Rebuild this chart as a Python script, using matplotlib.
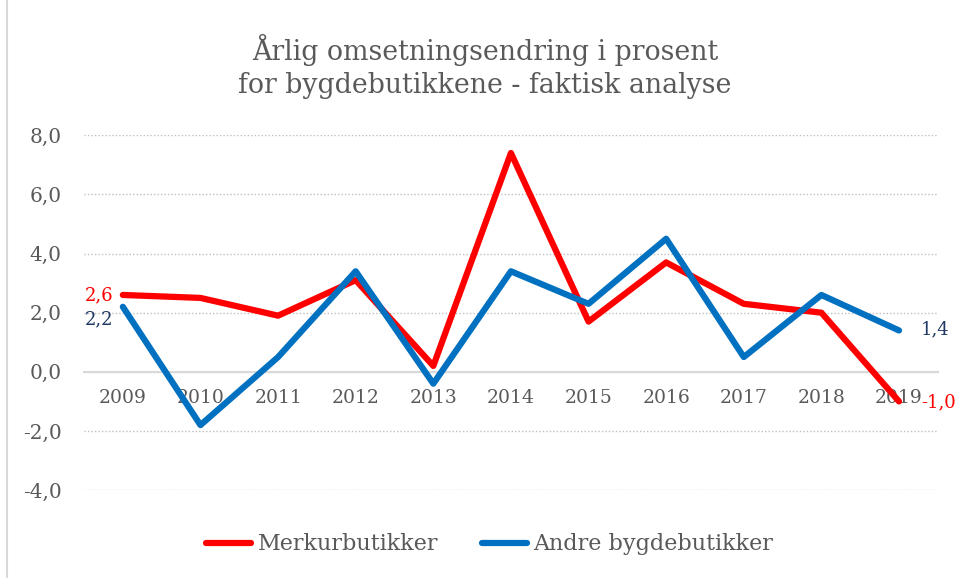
import matplotlib
matplotlib.use("Agg")
import matplotlib.pyplot as plt
from matplotlib.patches import Rectangle

years = ["2009", "2010", "2011", "2012", "2013", "2014",
         "2015", "2016", "2017", "2018", "2019"]
merkur = [2.6, 2.5, 1.9, 3.1, 0.2, 7.4, 1.7, 3.7, 2.3, 2.0, -1.0]
andre = [2.2, -1.8, 0.5, 3.4, -0.4, 3.4, 2.3, 4.5, 0.5, 2.6, 1.4]
yticks = [-4, -2, 0, 2, 4, 6, 8]

RED = "#FF0000"
BLUE = "#0070C0"
NAVY = "#1F3864"
GREY = "#595959"

plt.rcParams["font.family"] = ["DejaVu Serif"]

fig = plt.figure(figsize=(9.55, 5.78), dpi=100)
ax = fig.add_axes([0.088, 0.152, 0.894, 0.614])

x = list(range(len(years)))
ax.plot(x, merkur, color=RED, lw=4.5, solid_capstyle="round",
        solid_joinstyle="round", label="Merkurbutikker", zorder=3)
ax.plot(x, andre, color=BLUE, lw=4.5, solid_capstyle="round",
        solid_joinstyle="round", label="Andre bygdebutikker", zorder=3)

ax.set_xlim(-0.5, len(years) - 0.5)
ax.set_ylim(-4, 8)
ax.set_yticks(yticks)
ax.set_yticklabels([f"{v:.1f}".replace(".", ",") for v in yticks])
ax.yaxis.grid(True, color="#BFBFBF", linestyle=(0, (1, 1.5)), lw=1)
ax.set_axisbelow(True)

# category axis crosses at zero
for s in ["top", "right", "left"]:
    ax.spines[s].set_visible(False)
ax.spines["bottom"].set_position(("data", 0))
ax.spines["bottom"].set_color("#D9D9D9")
ax.spines["bottom"].set_linewidth(1.5)
ax.set_xticks(x)
ax.set_xticklabels(years)
ax.tick_params(axis="x", length=0, pad=12, labelsize=13.5, labelcolor=GREY)
ax.tick_params(axis="y", length=0, pad=16, labelsize=14.5, labelcolor=GREY)
for lbl in ax.get_xticklabels():
    lbl.set_zorder(2)

# data labels at both ends
def fmt(v):
    return f"{v:.1f}".replace(".", ",")

ax.annotate(fmt(merkur[0]), (0, merkur[0]), xytext=(-7, 0),
            textcoords="offset points", ha="right", va="center",
            color=RED, fontsize=13)
ax.annotate(fmt(andre[0]), (0, andre[0]), xytext=(-7, -9),
            textcoords="offset points", ha="right", va="center",
            color=NAVY, fontsize=13)
ax.annotate(fmt(andre[-1]), (10, andre[-1]), xytext=(16, 1),
            textcoords="offset points", ha="left", va="center",
            color=NAVY, fontsize=13)
ax.annotate(fmt(merkur[-1]), (10, merkur[-1]), xytext=(16, -1),
            textcoords="offset points", ha="left", va="center",
            color=RED, fontsize=13)

fig.text(0.508, 0.885, "Årlig omsetningsendring i prosent\nfor bygdebutikkene - faktisk analyse",
         ha="center", va="center", fontsize=19.3, color=GREY, linespacing=1.25)

leg = fig.legend(loc="center", bbox_to_anchor=(0.513, 0.058), ncol=2,
                 frameon=False, fontsize=16, handlelength=2.0,
                 handletextpad=0.3, columnspacing=2.0)
for t in leg.get_texts():
    t.set_color(GREY)

fig.patches.append(Rectangle((0.007, -0.01), 1.1, 1.1, transform=fig.transFigure,
                             fill=False, edgecolor="#D9D9D9", lw=1.5))

fig.savefig("out.png", dpi=100)
